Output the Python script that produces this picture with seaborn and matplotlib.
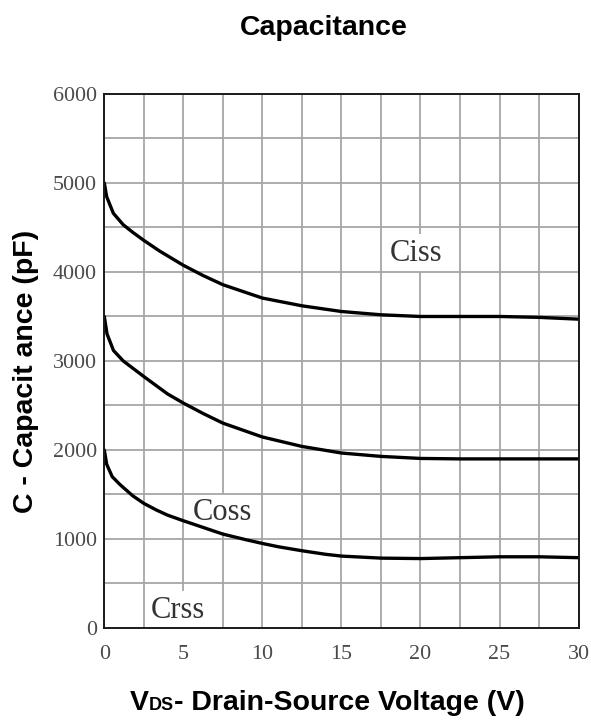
import matplotlib
matplotlib.use("Agg")
import matplotlib.pyplot as plt
from matplotlib.offsetbox import TextArea, HPacker, AnchoredOffsetbox
import seaborn as sns
import pandas as pd

# Drain-source voltage (V) and capacitance (pF) for each curve
ciss_v = [0.0, 0.15, 0.57, 1.2, 1.84, 2.5, 3.5, 5.0, 6.25, 7.5, 10.0, 12.5, 15.0,
          17.5, 20.0, 22.5, 25.0, 27.5, 30.0]
ciss = [5000, 4846, 4660, 4530, 4440, 4355, 4235, 4075, 3960, 3857, 3707, 3620,
        3556, 3519, 3500, 3500, 3500, 3490, 3470]

coss_v = [0.0, 0.17, 0.58, 1.2, 2.5, 4.0, 5.0, 6.25, 7.5, 10.0, 12.5, 15.0, 17.5,
          20.0, 22.5, 25.0, 27.5, 30.0]
coss = [3500, 3305, 3118, 3000, 2825, 2630, 2527, 2410, 2302, 2146, 2040, 1966,
        1928, 1905, 1900, 1900, 1900, 1900]

crss_v = [0.0, 0.15, 0.5, 1.0, 1.8, 2.5, 3.3, 4.0, 5.0, 6.0, 7.5, 9.0, 10.0, 11.0,
          12.5, 14.0, 15.0, 17.5, 20.0, 22.5, 25.0, 27.5, 30.0]
crss = [2000, 1840, 1700, 1610, 1485, 1400, 1325, 1268, 1205, 1145, 1055, 990,
        950, 913, 868, 828, 808, 785, 780, 790, 800, 800, 790]

curve_labels = ["Ciss", "Coss", "Crss"]
label_pos = [(19.7, 4213), (7.48, 1298), (4.68, 202)]

x_ticks = [0, 5, 10, 15, 20, 25, 30]
y_ticks = [0, 1000, 2000, 3000, 4000, 5000, 6000]

df = pd.concat([
    pd.DataFrame({"Vds": ciss_v, "C": ciss, "curve": "Ciss"}),
    pd.DataFrame({"Vds": coss_v, "C": coss, "curve": "Coss"}),
    pd.DataFrame({"Vds": crss_v, "C": crss, "curve": "Crss"}),
])

sns.set_theme(style="white")
plt.rcParams["font.family"] = ["Liberation Sans", "DejaVu Sans"]
plt.rcParams["text.color"] = "black"

fig = plt.figure(figsize=(5.91, 7.24), dpi=100)
ax = fig.add_axes([0.1765, 0.1326, 0.8025, 0.7376])

sns.lineplot(data=df, x="Vds", y="C", units="curve", estimator=None, sort=False,
             color="black", linewidth=2.4, ax=ax, zorder=4)

ax.set_xlim(0, 30)
ax.set_ylim(0, 6000)
ax.set_xticks(x_ticks)
ax.set_yticks(y_ticks)
minor_x = [2.5 + 5 * i for i in range(6)]
minor_y = [500 + 1000 * i for i in range(6)]
ax.set_xticks(minor_x, minor=True)
ax.set_yticks(minor_y, minor=True)

# vertical grid sits under the label boxes, horizontal rules run over them
grid_kw = dict(color="#a6a6a6", linewidth=1.3)
ax.xaxis.grid(True, which="both", **grid_kw)
ax.yaxis.grid(False)
ax.set_axisbelow(True)
for yv in sorted(y_ticks[1:-1] + minor_y):
    ax.axhline(yv, zorder=2.5, **grid_kw)

tick_font = dict(family="Liberation Serif", size=15.8, color="#4a4a4a")
ax.set_xticklabels([str(t) for t in x_ticks], fontdict=tick_font)
ax.set_yticklabels([str(t) for t in y_ticks], fontdict=tick_font)
ax.tick_params(axis="both", which="both", length=0)
ax.tick_params(axis="x", pad=12)
ax.tick_params(axis="y", pad=5.5)

for spine in ax.spines.values():
    spine.set_color("#1a1a1a")
    spine.set_linewidth(1.4)
    spine.set_zorder(5)

for name, (lx, ly) in zip(curve_labels, label_pos):
    ax.text(lx, ly, name, family="Liberation Serif", fontsize=22, color="#333333",
            ha="center", va="center", zorder=2,
            bbox=dict(boxstyle="square,pad=0.15", facecolor="white",
                      edgecolor="none"))

ax.set_xlabel("")
ax.set_ylabel("")

fig.text(0.548, 1 - 35 / 724, "Capacitance", ha="center", va="baseline",
         fontsize=20.5, fontweight="bold", color="black")
fig.text(0.044, 1 - 371.5 / 724, "C - Capacit ance (pF)", ha="center",
         va="center", rotation=90, fontsize=20.5, fontweight="bold",
         color="black")

# x-axis title with a small "DS" set on the baseline
bold = dict(fontweight="bold", color="black")
parts = [
    TextArea("V", textprops=dict(fontsize=20.5, **bold)),
    TextArea("DS", textprops=dict(fontsize=13, **bold)),
    TextArea("- Drain-Source Voltage (V)", textprops=dict(fontsize=20.5, **bold)),
]
xlabel_box = HPacker(children=parts, align="baseline", pad=0, sep=0)
anchored = AnchoredOffsetbox(loc="center", child=xlabel_box, frameon=False,
                             bbox_to_anchor=(327.5 / 591, 1 - 703 / 724),
                             bbox_transform=fig.transFigure, borderpad=0, pad=0)
fig.add_artist(anchored)

fig.savefig("out.png", dpi=100)
